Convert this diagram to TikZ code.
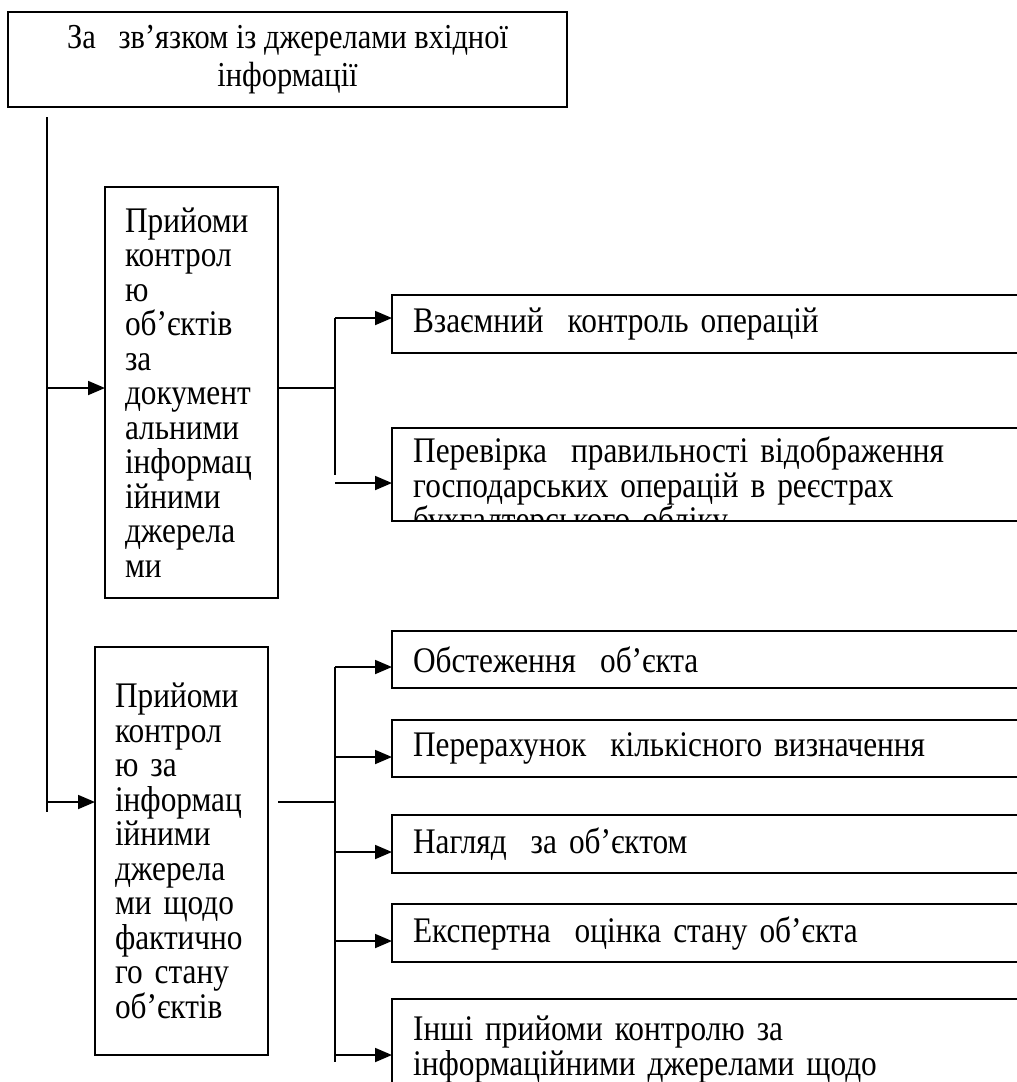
\documentclass[tikz,border=0pt]{standalone}
\usepackage{fontspec}
\setmainfont[FakeStretch=0.87]{Liberation Serif}
\usetikzlibrary{arrows.meta}
% text settings shared by all boxes: fixed line pitch
\newcommand\boxfont{\fontsize{36}{34.5}\selectfont\lineskiplimit -100pt\relax}
\newcommand\headfont{\fontsize{35}{38}\selectfont\lineskiplimit -100pt\relax}
\begin{document}
\begin{tikzpicture}[x=1pt,y=-1pt,
  box/.style={draw, line width=1.8pt, inner sep=0pt, outer sep=0pt},
  conn/.style={line width=1.8pt},
  arr/.style={conn, -{Triangle[length=17pt,width=14pt]}},
  txt/.style={font=\boxfont, inner sep=0pt, align=left},
  colbox/.style={box, txt, anchor=north west, minimum width=173pt, inner xsep=20pt, text width=133pt},
  rowbox/.style={box, txt, anchor=north west, minimum width=648pt, inner xsep=21pt, text width=606pt}
]
\useasboundingbox (0,0) rectangle (1017,1082);
\clip (0,0) rectangle (1017,1082);

% heading box
\node[box, anchor=north west, minimum width=559pt, minimum height=95pt,
      font=\headfont, align=center] (head) at (8,12)
      {За\ \ \ зв’язком із джерелами вхідної\\інформації};

% the two groups of methods
\node[colbox, minimum height=411pt] (docs) at (105,187)
  {Прийоми\\контрол\\ю\\об’єктів\\за\\документ\\альними\\інформац\\ійними\\джерела\\ми};
\node[colbox, minimum height=408pt] (fact) at (95,647)
  {Прийоми\\контрол\\ю за\\інформац\\ійними\\джерела\\ми щодо\\фактично\\го стану\\об’єктів};

% methods based on documents
\node[rowbox, minimum height=58pt] (mutual) at (392,295) {Взаємний\ \ контроль операцій};
\node[box, anchor=north west, minimum width=648pt, minimum height=93pt] (registers) at (392,428) {};
\begin{scope}
  \clip (registers.north west) rectangle (registers.south east);
  \node[txt, anchor=north west, text width=600pt] (registerstext) at (413,437)
    {Перевірка\ \ правильності відображення\\господарських операцій в реєстрах\\бухгалтерського обліку};
\end{scope}

% methods based on the actual state
\node[rowbox, minimum height=57pt] (survey) at (392,631) {Обстеження\ \ об’єкта};
\node[rowbox, minimum height=57pt] (recount) at (392,720) {Перерахунок\ \ кількісного визначення};
\node[rowbox, minimum height=58pt] (watch) at (392,815) {Нагляд\ \ за об’єктом};
\node[rowbox, minimum height=58pt] (expert) at (392,904) {Експертна\ \ оцінка стану об’єкта};
\node[box, anchor=north west, minimum width=648pt, minimum height=130pt] (other) at (392,999) {};
\node[txt, anchor=north west, text width=600pt] (othertext) at (413,1016)
  {Інші прийоми контролю за\\інформаційними джерелами щодо};

% main trunk
\coordinate (trunkTop) at (47,117);
\coordinate (trunkBot) at (47,812);
\draw[conn] (trunkTop) -- (trunkBot);
\coordinate (toDocs) at (47,388);
\coordinate (toFact) at (47,802);
\draw[arr] (toDocs) -- (toDocs -| docs.west);
\draw[arr] (toFact) -- (toFact -| fact.west);

% branch from the documentary group
\coordinate (jd) at (335,388);
\coordinate (jd1) at (335,318);
\coordinate (jd2) at (335,475);
\coordinate (jd3) at (335,483);
\draw[conn] (jd -| docs.east) -- (jd);
\draw[conn] (jd1) -- (jd2);
\draw[arr] (jd1) -- (jd1 -| mutual.west);
\draw[arr] (jd3) -- (jd3 -| registers.west);

% branch from the factual group
\coordinate (jf0) at (278,802);
\coordinate (jf) at (335,802);
\coordinate (jf1) at (335,667);
\coordinate (jf2) at (335,757);
\coordinate (jf3) at (335,852);
\coordinate (jf4) at (335,941);
\coordinate (jf5) at (335,1055);
\coordinate (jfEnd) at (335,1062);
\draw[conn] (jf0) -- (jf);
\draw[conn] (jf1) -- (jfEnd);
\draw[arr] (jf1) -- (jf1 -| survey.west);
\draw[arr] (jf2) -- (jf2 -| recount.west);
\draw[arr] (jf3) -- (jf3 -| watch.west);
\draw[arr] (jf4) -- (jf4 -| expert.west);
\draw[arr] (jf5) -- (jf5 -| other.west);
\end{tikzpicture}
\end{document}
